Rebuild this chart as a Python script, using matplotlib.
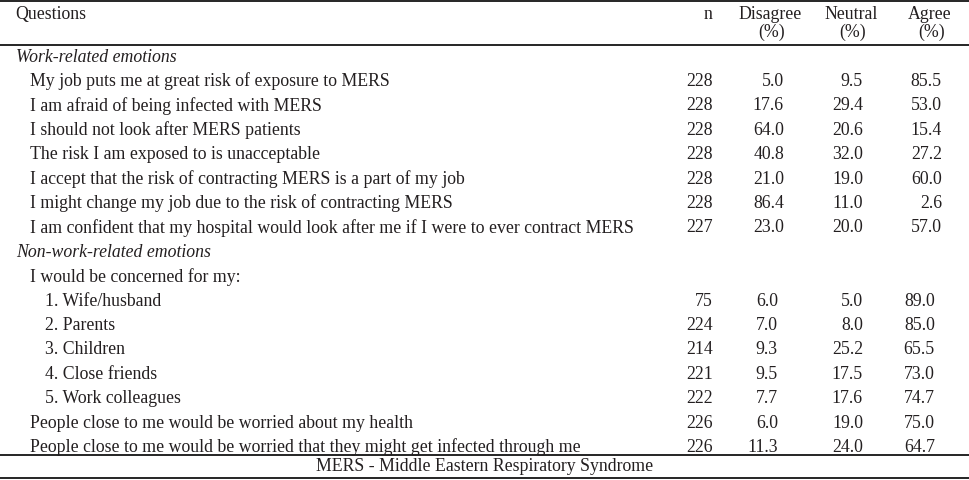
import matplotlib
matplotlib.use("Agg")
import matplotlib.pyplot as plt

# ---- data ----
header_labels = ["Questions", "n", "Disagree", "Neutral", "Agree"]
header_units = ["(%)", "(%)", "(%)"]

section_titles = ["Work-related emotions", "Non-work-related emotions"]

work_questions = [
    "My job puts me at great risk of exposure to MERS",
    "I am afraid of being infected with MERS",
    "I should not look after MERS patients",
    "The risk I am exposed to is unacceptable",
    "I accept that the risk of contracting MERS is a part of my job",
    "I might change my job due to the risk of contracting MERS",
    "I am confident that my hospital would look after me if I were to ever contract MERS",
]
work_n = [228, 228, 228, 228, 228, 228, 227]
work_disagree = [5.0, 17.6, 64.0, 40.8, 21.0, 86.4, 23.0]
work_neutral = [9.5, 29.4, 20.6, 32.0, 19.0, 11.0, 20.0]
work_agree = [85.5, 53.0, 15.4, 27.2, 60.0, 2.6, 57.0]

concern_intro = "I would be concerned for my:"
concern_items = ["1. Wife/husband", "2. Parents", "3. Children",
                 "4. Close friends", "5. Work colleagues"]
concern_n = [75, 224, 214, 221, 222]
concern_disagree = [6.0, 7.0, 9.3, 9.5, 7.7]
concern_neutral = [5.0, 8.0, 25.2, 17.5, 17.6]
concern_agree = [89.0, 85.0, 65.5, 73.0, 74.7]

other_questions = [
    "People close to me would be worried about my health",
    "People close to me would be worried that they might get infected through me",
]
other_n = [226, 226]
other_disagree = [6.0, 11.3]
other_neutral = [19.0, 24.0]
other_agree = [75.0, 64.7]

footnote = "MERS - Middle Eastern Respiratory Syndrome"

# ---- layout ----
W, H = 969, 480
fig = plt.figure(figsize=(W / 100, H / 100), dpi=100)
ax = fig.add_axes([0, 0, 1, 1])
ax.set_xlim(0, W)
ax.set_ylim(H, 0)
ax.axis("off")

FONT = "Liberation Serif"
FS = 12.8
COL = "#231f20"

def txt(x, y, s, ha="left", style="normal", fs=FS):
    ax.text(x, y, s, ha=ha, va="center", fontsize=fs, family=FONT,
            style=style, color=COL)

# rules
for y in [1, 45, 455, 478]:
    ax.plot([0, W], [y, y], color="black", lw=1.2, solid_capstyle="butt")

# header
txt(15, 14.5, header_labels[0])
txt(708, 14.5, header_labels[1], ha="center")
for lab, unit, xc in zip(header_labels[2:], header_units, [770, 851, 930]):
    txt(xc, 14.5, lab, ha="center")
    txt(xc + 2, 32, unit, ha="center")

row_y0, row_dy = 57, 24.4
def ry(i):
    return row_y0 + row_dy * i

def fmt_row(i, q, n, d, ne, a, x_q, xd=784, xa=942):
    txt(x_q, ry(i), q)
    txt(713, ry(i), f"{n}", ha="right")
    txt(xd, ry(i), f"{d:.1f}", ha="right")
    txt(863, ry(i), f"{ne:.1f}", ha="right")
    txt(xa, ry(i), f"{a:.1f}", ha="right")

r = 0
txt(16, ry(r), section_titles[0], style="italic")
r += 1
for q, n, d, ne, a in zip(work_questions, work_n, work_disagree, work_neutral, work_agree):
    fmt_row(r, q, n, d, ne, a, 30)
    r += 1
txt(16, ry(r), section_titles[1], style="italic")
r += 1
txt(30, ry(r), concern_intro)
r += 1
for q, n, d, ne, a in zip(concern_items, concern_n, concern_disagree, concern_neutral, concern_agree):
    fmt_row(r, q, n, d, ne, a, 45, xd=778, xa=935)
    r += 1
for q, n, d, ne, a in zip(other_questions, other_n, other_disagree, other_neutral, other_agree):
    fmt_row(r, q, n, d, ne, a, 30, xd=778, xa=935)
    r += 1

txt(W / 2, 466.5, footnote, ha="center")

fig.savefig("out.png", dpi=100)
